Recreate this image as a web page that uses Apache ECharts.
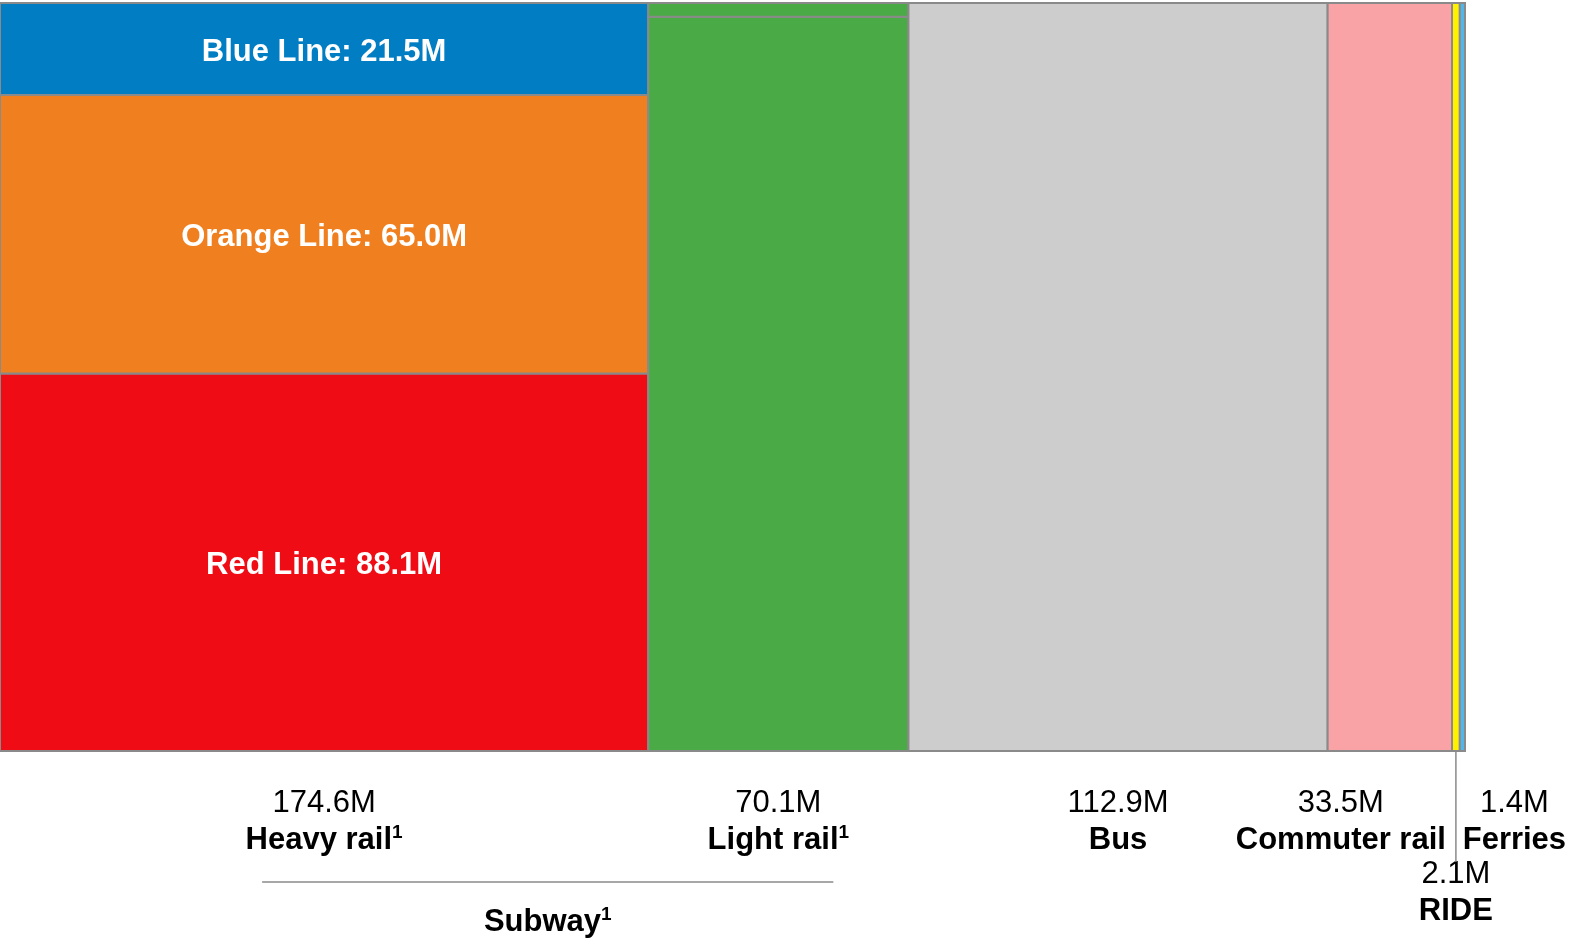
<!DOCTYPE html>
<html>
<head>
<meta charset="utf-8">
<script src="https://cdn.jsdelivr.net/npm/echarts@6/dist/echarts.min.js"></script>
<style>
  html, body { margin: 0; padding: 0; background: #ffffff; }
  #chart { width: 1590px; height: 950px; }
</style>
</head>
<body>
<div id="chart"></div>
<script>
// ---- Data ----
const modes = ['Heavy rail', 'Light rail', 'Bus', 'Commuter rail', 'RIDE', 'Ferries'];
const modeNotes = ['1', '1', '', '', '', ''];
const modeTotals = [174.6, 70.1, 112.9, 33.5, 2.1, 1.4];

// segments stacked inside each mode column (bottom to top)
const segNames = ['Red Line', 'Orange Line', 'Blue Line', 'Green Line', 'Mattapan', 'Bus', 'Commuter rail', 'RIDE', 'Ferries'];
const segMode = [0, 0, 0, 1, 1, 2, 3, 4, 5];
const segValues = [88.1, 65.0, 21.5, 68.8, 1.3, 112.9, 33.5, 2.1, 1.4];
const segLabeled = [true, true, true, false, false, false, false, false, false];

const groupName = 'Subway';
const groupNote = '1';

// ---- Styles ----
const segColors = ['#F00C14', '#F07F1F', '#007DC3', '#4AAA45', '#4AAA45', '#CDCDCD', '#F9A3A6', '#FFF200', '#50B6EC'];
const labelDx = [0, 0, 0, -49, 0, 52];
const labelLow = [false, false, false, false, true, false];
const FONT = '"Liberation Sans", Arial, sans-serif';

// ---- Derived ----
const totalAll = modeTotals.reduce((a, b) => a + b, 0);
const modeStart = [];
modeTotals.reduce((acc, v, i) => { modeStart[i] = acc; return acc + v; }, 0);
const segStart = [];
(function () {
  const acc = {};
  segValues.forEach((v, i) => {
    const m = segMode[i];
    acc[m] = acc[m] || 0;
    segStart[i] = acc[m];
    acc[m] += v;
  });
})();

const richName = {
  n: { fontFamily: FONT, fontSize: 31, fontWeight: 'bold', color: '#000', lineHeight: 34 },
  s: { fontFamily: FONT, fontSize: 19, fontWeight: 'bold', color: '#000', verticalAlign: 'top', lineHeight: 16 }
};
function nameText(name, note) {
  return '{n|' + name + '}' + (note ? '{s|' + note + '}' : '');
}

const chart = echarts.init(document.getElementById('chart'), null, { renderer: 'canvas' });

function renderSeg(params, api) {
  const i = api.value(0);
  const m = segMode[i];
  const x0 = modeStart[m], x1 = x0 + modeTotals[m];
  const y0 = segStart[i] / modeTotals[m] * 100;
  const y1 = (segStart[i] + segValues[i]) / modeTotals[m] * 100;
  const p0 = api.coord([x0, y1]);
  const p1 = api.coord([x1, y0]);
  const children = [{
    type: 'rect',
    shape: { x: p0[0], y: p0[1], width: p1[0] - p0[0], height: p1[1] - p0[1] },
    style: { fill: segColors[i], stroke: '#8a8a8a', lineWidth: 2 }
  }];
  if (segLabeled[i]) {
    children.push({
      type: 'text',
      x: (p0[0] + p1[0]) / 2,
      y: (p0[1] + p1[1]) / 2 + 3,
      style: {
        text: segNames[i] + ': ' + segValues[i].toFixed(1) + 'M',
        fill: '#ffffff', font: 'bold 31px ' + FONT,
        align: 'center', verticalAlign: 'middle'
      }
    });
  }
  return { type: 'group', children: children };
}

function renderModeLabel(params, api) {
  const m = api.value(0);
  const mid = modeStart[m] + modeTotals[m] / 2;
  const p = api.coord([mid, 0]);
  const x = p[0] + labelDx[m];
  const base = p[1];
  const dy = labelLow[m] ? 71 : 0;
  const children = [
    {
      type: 'text', x: x, y: base + 52 + dy,
      style: { text: modeTotals[m].toFixed(1) + 'M', fill: '#000', font: '31px ' + FONT, align: 'center', verticalAlign: 'middle' }
    },
    {
      type: 'text', x: x, y: base + 89 + dy,
      style: { text: nameText(modes[m], modeNotes[m]), rich: richName, align: 'center', verticalAlign: 'middle' }
    }
  ];
  if (labelLow[m]) {
    children.push({
      type: 'line',
      shape: { x1: p[0], y1: base + 1, x2: p[0], y2: base + 111 },
      style: { stroke: '#8a8a8a', lineWidth: 1.5 }
    });
  }
  if (m === 0) {
    // subway bracket spanning heavy + light rail
    const pa = api.coord([modeStart[0] + modeTotals[0] / 2, 0]);
    const pb = api.coord([modeStart[1] + modeTotals[1] / 2, 0]);
    const lx0 = pa[0] - 62, lx1 = pb[0] + 55;
    children.push({
      type: 'line',
      shape: { x1: lx0, y1: base + 131, x2: lx1, y2: base + 131 },
      style: { stroke: '#8a8a8a', lineWidth: 1.5 }
    });
    children.push({
      type: 'text', x: (lx0 + lx1) / 2, y: base + 171,
      style: { text: nameText(groupName, groupNote), rich: richName, align: 'center', verticalAlign: 'middle' }
    });
  }
  return { type: 'group', children: children };
}

chart.setOption({
  animation: false,
  backgroundColor: '#ffffff',
  grid: { left: 0, right: 125, top: 3, bottom: 199 },
  xAxis: { type: 'value', min: 0, max: totalAll, show: false },
  yAxis: { type: 'value', min: 0, max: 100, show: false },
  series: [
    {
      type: 'custom',
      renderItem: renderSeg,
      data: segNames.map((n, i) => [i]),
      clip: false
    },
    {
      type: 'custom',
      renderItem: renderModeLabel,
      data: modes.map((n, i) => [i]),
      clip: false
    }
  ]
});
</script>
</body>
</html>
